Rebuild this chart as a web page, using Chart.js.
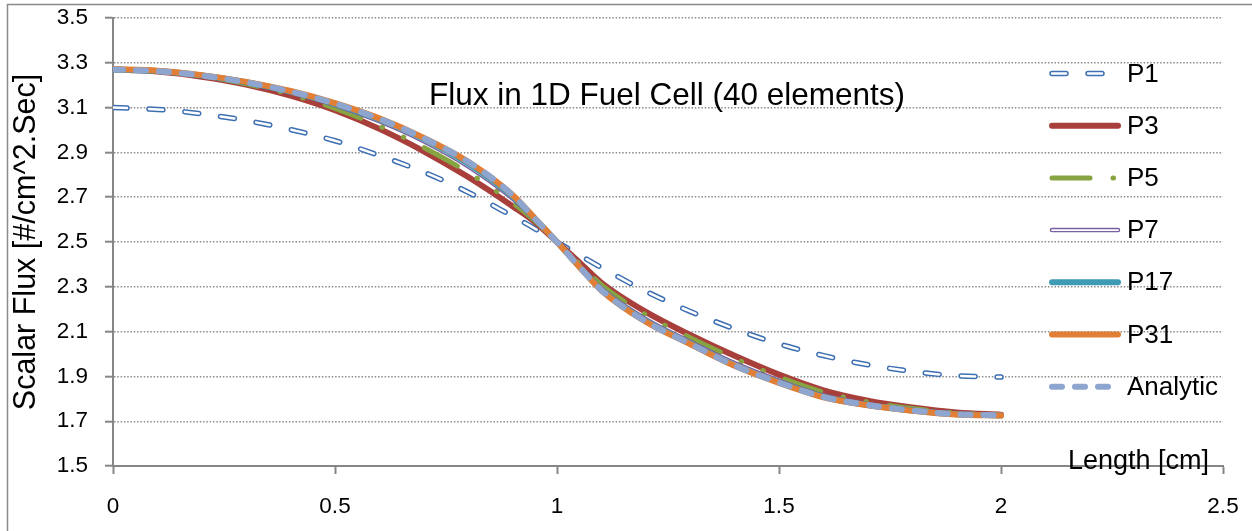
<!DOCTYPE html>
<html>
<head>
<meta charset="utf-8">
<script src="https://cdn.jsdelivr.net/npm/chart.js@4.4.1/dist/chart.umd.min.js"></script>
<style>
  html, body { margin: 0; background: #fff; }
  #chart { display: block; }
</style>
</head>
<body>
<canvas id="chart" width="1252" height="531"></canvas>
<script>
// Flux in 1D Fuel Cell (40 elements) - PN solutions vs analytic
const chartTitle = 'Flux in 1D Fuel Cell (40 elements)';
const xTitle = 'Length [cm]';
const yTitle = 'Scalar Flux [#/cm^2.Sec]';

const lengthCm = [0, 0.1, 0.2, 0.3, 0.4, 0.5, 0.6, 0.7, 0.8, 0.9, 0.95, 1.0, 1.05, 1.1, 1.2, 1.3, 1.4, 1.5, 1.6, 1.7, 1.8, 1.9, 2.0];

const p1 = [3.100, 3.092, 3.072, 3.042, 3.002, 2.952, 2.886, 2.812, 2.722, 2.615, 2.560, 2.500, 2.442, 2.386, 2.280, 2.190, 2.112, 2.045, 1.993, 1.952, 1.922, 1.903, 1.897];
const p3 = [3.270, 3.261, 3.238, 3.203, 3.153, 3.088, 3.005, 2.905, 2.790, 2.660, 2.590, 2.500, 2.410, 2.318, 2.188, 2.085, 1.992, 1.908, 1.838, 1.792, 1.761, 1.739, 1.729];
const p5 = [3.270, 3.262, 3.240, 3.206, 3.159, 3.097, 3.018, 2.922, 2.810, 2.675, 2.595, 2.500, 2.404, 2.308, 2.175, 2.073, 1.980, 1.898, 1.830, 1.786, 1.757, 1.737, 1.728];
const p7 = [3.270, 3.263, 3.242, 3.211, 3.168, 3.111, 3.039, 2.950, 2.838, 2.694, 2.601, 2.500, 2.395, 2.293, 2.156, 2.055, 1.959, 1.881, 1.815, 1.777, 1.751, 1.733, 1.727];
const p17 = [3.270, 3.263, 3.243, 3.213, 3.171, 3.117, 3.048, 2.961, 2.850, 2.704, 2.605, 2.500, 2.391, 2.286, 2.147, 2.046, 1.949, 1.873, 1.809, 1.772, 1.748, 1.731, 1.726];
const p31 = [3.272, 3.265, 3.245, 3.215, 3.174, 3.120, 3.052, 2.965, 2.858, 2.710, 2.606, 2.500, 2.390, 2.284, 2.144, 2.044, 1.947, 1.871, 1.807, 1.771, 1.747, 1.730, 1.725];
const analytic = [3.270, 3.263, 3.243, 3.213, 3.172, 3.118, 3.050, 2.963, 2.858, 2.710, 2.605, 2.500, 2.390, 2.285, 2.145, 2.045, 1.948, 1.872, 1.808, 1.772, 1.748, 1.731, 1.726];

const legendLabels = ['P1', 'P3', 'P5', 'P7', 'P17', 'P31', 'Analytic'];

const FONT = "'Liberation Sans', Arial, sans-serif";
const pts = arr => lengthCm.map((x, i) => ({ x, y: arr[i] }));

// helper for one line dataset
const line = (label, data, color, width, dash, order, key) => ({
  label, data: pts(data),
  borderColor: color, borderWidth: width, borderDash: dash,
  borderCapStyle: 'round', borderJoinStyle: 'round',
  pointRadius: 0, fill: false, cubicInterpolationMode: 'monotone',
  order, legendKey: key || label
});

const datasets = [
  line('P1', p1, '#3d6fb2', 5.5, [14, 22], 8),
  line('P1 inner', p1, '#ffffff', 2.5, [14, 22], 7.5, 'P1'),
  line('P3', p3, '#a83f3b', 6, [], 7),
  line('P5', p5, '#86a542', 5, [38, 23, 0.5, 23, 0.5, 23], 6),
  line('P7', p7, '#7a5fa0', 4.5, [], 5),
  line('P7 inner', p7, '#ffffff', 1.8, [], 4.5, 'P7'),
  line('P17', p17, '#3e9bb5', 6, [], 4),
  line('P31', p31, '#e07f35', 6, [], 3),
  line('Analytic', analytic, '#8ea6cf', 6, [10, 13], 1)
];

// texts, frame and legend drawn over the plot like the Excel original
const overlay = {
  id: 'overlay',
  afterDraw(chart) {
    const ctx = chart.ctx;
    ctx.save();
    ctx.strokeStyle = '#8a8a8a';
    ctx.lineWidth = 1.5;
    ctx.strokeRect(7.5, 4.5, 1250, 540);

    ctx.fillStyle = '#000';
    ctx.textBaseline = 'alphabetic';
    ctx.font = '31.5px ' + FONT;
    ctx.textAlign = 'center';
    ctx.fillText(chartTitle, 667, 105);
    ctx.font = '27px ' + FONT;
    ctx.textAlign = 'left';
    ctx.fillText(xTitle, 1068, 469);

    legendLabels.forEach((lab, i) => {
      const y = 73.5 + i * 52.2;
      chart.data.datasets.filter(d => d.legendKey === lab).forEach(d => {
        ctx.beginPath();
        ctx.strokeStyle = d.borderColor;
        ctx.lineWidth = d.borderWidth;
        ctx.lineCap = 'round';
        ctx.setLineDash(d.borderDash);
        ctx.moveTo(1052, y);
        ctx.lineTo(1118, y);
        ctx.stroke();
      });
      ctx.setLineDash([]);
      ctx.fillStyle = '#000';
      ctx.font = '26px ' + FONT;
      ctx.textAlign = 'left';
      ctx.textBaseline = 'middle';
      ctx.fillText(lab, 1127, y + 1);
    });
    ctx.restore();
  }
};

new Chart(document.getElementById('chart'), {
  type: 'line',
  data: { datasets },
  options: {
    responsive: false,
    animation: false,
    devicePixelRatio: 1,
    layout: { padding: { left: 0, right: 29, top: 18, bottom: 0 } },
    plugins: { legend: { display: false }, tooltip: { enabled: false } },
    scales: {
      x: {
        type: 'linear', min: 0, max: 2.5,
        afterFit: s => { s.height = 65; s.paddingLeft = 0; s.paddingRight = 0; },
        ticks: { stepSize: 0.5, padding: 19, maxRotation: 0, color: '#000', font: { family: FONT, size: 22.5 }, callback: v => String(v) },
        grid: { drawOnChartArea: false, tickLength: 8, tickColor: '#868686', tickWidth: 2 },
        border: { color: '#868686', width: 2 }
      },
      y: {
        min: 1.5, max: 3.5,
        afterFit: s => { s.width = 113; s.paddingTop = 0; s.paddingBottom = 0; },
        ticks: { stepSize: 0.2, padding: 17, color: '#000', font: { family: FONT, size: 22.5 }, callback: v => v.toFixed(1) },
        grid: { color: '#8c8c8c', lineWidth: 1.4, tickLength: 8, tickColor: '#868686', tickWidth: 2, tickBorderDash: [] },
        border: { color: '#868686', width: 2, dash: [1.5, 1.8] },
        title: { display: true, text: yTitle, color: '#000', font: { family: FONT, size: 30.5 }, padding: { top: 8, bottom: 0 } }
      }
    }
  },
  plugins: [overlay]
});
</script>
</body>
</html>
